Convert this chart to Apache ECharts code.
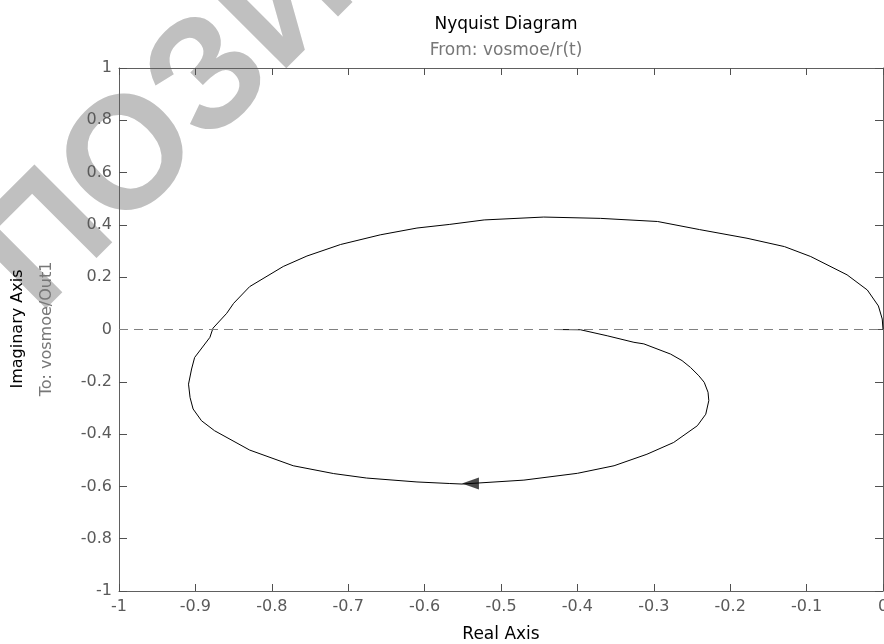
<!DOCTYPE html>
<html>
<head>
<meta charset="utf-8">
<script src="https://cdn.jsdelivr.net/npm/echarts@6/dist/echarts.min.js"></script>
<style>
  * { margin: 0; padding: 0; }
  body { background: #fff; }
</style>
</head>
<body>
<div id="main" style="width: 884px;height: 644px;"></div>
<script>
  // Nyquist curve (real / imaginary)
  const re = [0.0, -0.001, -0.006, -0.0205, -0.047, -0.0946, -0.129, -0.178, -0.24, -0.295,
    -0.37, -0.444, -0.522, -0.567, -0.61, -0.658, -0.71, -0.754, -0.785, -0.829,
    -0.85, -0.859, -0.877, -0.881, -0.901, -0.905, -0.909, -0.907, -0.903, -0.892,
    -0.875, -0.829, -0.772, -0.719, -0.676, -0.61, -0.567, -0.551, -0.47, -0.4,
    -0.352, -0.309, -0.274, -0.243, -0.232, -0.228, -0.229, -0.234, -0.241, -0.252,
    -0.263, -0.278, -0.313, -0.326, -0.361, -0.396, -0.43]
  const im = [0.0, 0.04, 0.09, 0.151, 0.209, 0.279, 0.317, 0.349, 0.382, 0.413,
    0.425, 0.43, 0.419, 0.402, 0.388, 0.362, 0.325, 0.281, 0.241, 0.164,
    0.1, 0.062, 0.005, -0.03, -0.107, -0.151, -0.209, -0.26, -0.304, -0.349,
    -0.387, -0.461, -0.521, -0.551, -0.568, -0.583, -0.589, -0.591, -0.576, -0.55,
    -0.521, -0.477, -0.432, -0.368, -0.324, -0.272, -0.24, -0.202, -0.177, -0.145,
    -0.119, -0.094, -0.055, -0.049, -0.024, -0.001, 0.0]
  // direction arrow on the lower arc
  const arrowPt = [-0.54, -0.589]

  const font = 'DejaVu Sans'
  const axisGray = '#606060'

  const curve = re.map((x, i) => [x, im[i]])

  // fresh objects for each axis (box axes like matlab, ticks inside)
  function xAx(pos, showLabel) {
    return {
      type: 'value', min: -1, max: 0, interval: 0.1, position: pos,
      splitLine: { show: false },
      axisLine: { show: true, onZero: false, lineStyle: { color: axisGray, width: 1 } },
      axisTick: { show: true, inside: true, length: 7, lineStyle: { color: '#505050', width: 1 } },
      axisLabel: { show: showLabel, margin: 8, fontFamily: font, fontSize: 16, color: '#5a5a5a' }
    }
  }
  function yAx(pos, showLabel) {
    return {
      type: 'value', min: -1, max: 1, interval: 0.2, position: pos,
      splitLine: { show: false },
      axisLine: { show: true, onZero: false, lineStyle: { color: axisGray, width: 1 } },
      axisTick: { show: true, inside: true, length: 8, lineStyle: { color: '#505050', width: 1 } },
      axisLabel: { show: showLabel, margin: 7, fontFamily: font, fontSize: 16, color: '#5a5a5a' }
    }
  }

  const bottomX = xAx('bottom', true)
  bottomX.name = 'Real Axis'
  bottomX.nameLocation = 'middle'
  bottomX.nameGap = 35
  bottomX.nameTextStyle = { fontFamily: font, fontSize: 17, color: '#000' }

  const myChart = echarts.init(document.getElementById('main'))
  myChart.setOption({
    animation: false,
    backgroundColor: '#fff',
    title: {
      text: 'Nyquist Diagram',
      subtext: 'From: vosmoe/r(t)',
      left: 501,
      top: 11,
      textAlign: 'center',
      itemGap: 9,
      textStyle: { fontFamily: font, fontSize: 17, fontWeight: 'normal', color: '#000' },
      subtextStyle: { fontFamily: font, fontSize: 17, color: '#777' }
    },
    grid: { left: 119, top: 68, right: 1, bottom: 53, outerBoundsMode: 'none' },
    xAxis: [bottomX, xAx('top', false)],
    yAxis: [yAx('left', true), yAx('right', false)],
    graphic: [
      {
        type: 'text', z: -10, x: 168, y: 124, rotation: Math.PI / 4,
        style: { text: 'ПОЗИ', fontFamily: 'Liberation Sans', fontSize: 160, fontWeight: 'bold',
          fill: '#c0c0c0', align: 'center', verticalAlign: 'middle' }
      },
      {
        type: 'text', x: 18, y: 329, rotation: Math.PI / 2,
        style: { text: 'Imaginary Axis', fontFamily: font, fontSize: 16, fill: '#000',
          align: 'center', verticalAlign: 'middle' }
      },
      {
        type: 'text', x: 47, y: 329, rotation: Math.PI / 2,
        style: { text: 'To: vosmoe/Out1', fontFamily: font, fontSize: 16, fill: '#777',
          align: 'center', verticalAlign: 'middle' }
      }
    ],
    series: [
      {
        type: 'line',
        xAxisIndex: 0,
        yAxisIndex: 0,
        data: curve,
        showSymbol: false,
        smooth: false,
        lineStyle: { color: '#000', width: 1 },
        markLine: {
          silent: true,
          symbol: 'none',
          label: { show: false },
          lineStyle: { color: '#808080', type: [9, 6], width: 1 },
          data: [{ yAxis: 0 }]
        }
      },
      {
        type: 'scatter',
        xAxisIndex: 0,
        yAxisIndex: 0,
        data: [arrowPt],
        symbol: 'triangle',
        symbolRotate: 90,
        symbolSize: [12, 17],
        itemStyle: { color: '#1a1a1a' }
      },
      // empty series so the top and right axes are bound to data too
      { type: 'line', xAxisIndex: 1, yAxisIndex: 1, data: [], showSymbol: false }
    ]
  })
</script>
</body>
</html>
